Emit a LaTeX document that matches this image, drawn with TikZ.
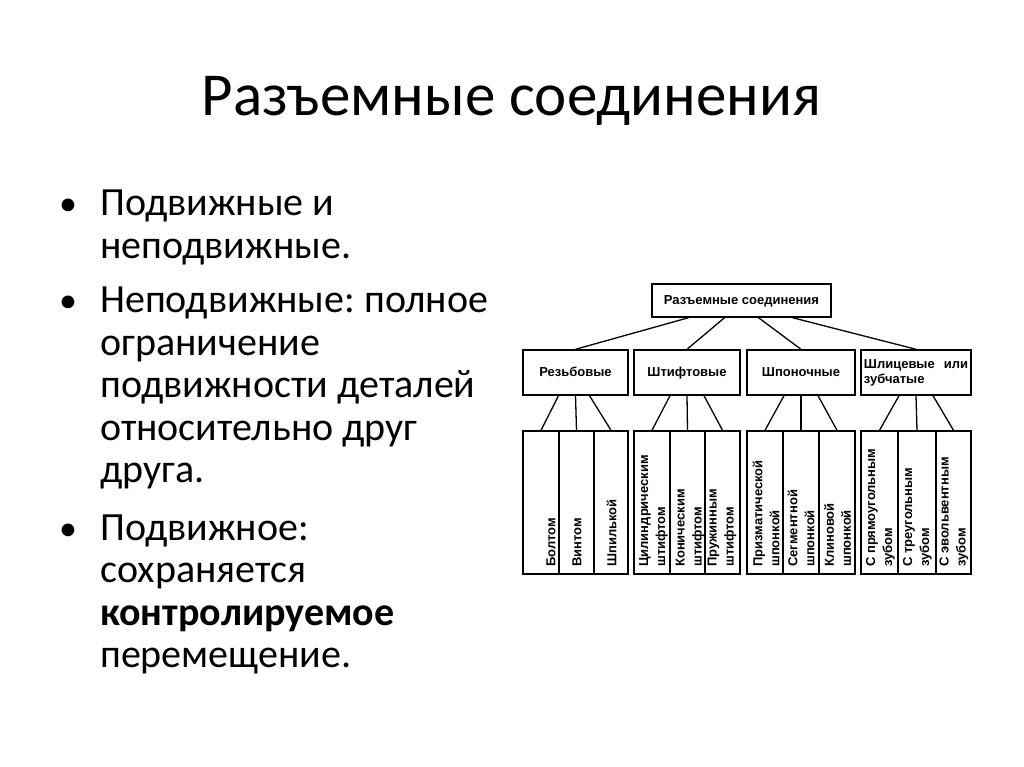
\documentclass[tikz,border=0pt]{standalone}
\usepackage{fontspec}
\setmainfont{Carlito}
\newfontfamily\diagfont{Liberation Sans}
\frenchspacing
\begin{document}
\begin{tikzpicture}[x=1pt,y=-1pt,
  box/.style={draw, line width=1.4pt, inner sep=0pt, align=left,
    font=\diagfont\bfseries\fontsize{13}{15}\selectfont},
  col/.style={draw, line width=1.4pt, inner sep=0pt, minimum height=143pt},
  vlab/.style={rotate=90, anchor=west, inner sep=0pt, align=left,
    font=\diagfont\bfseries\fontsize{13}{17}\selectfont},
  link/.style={line width=1.3pt},
  body/.style={anchor=base west, inner sep=0pt, font=\frenchspacing\fontsize{40}{42.5}\selectfont},
  bul/.style={anchor=base, inner sep=0pt, font=\fontsize{36}{42.5}\selectfont}]
\useasboundingbox[fill=white] (0,0) rectangle (1024,767);

% title
\node[anchor=base, inner sep=0pt, font=\fontsize{61}{70}\selectfont] (title) at (511.5,116) {Разъемные соединения};

% bullets
\node[bul] (k1) at (68,216) {•};
\node[bul] (k2) at (68,312.5) {•};
\node[bul] (k3) at (68,540) {•};
\node[body] (l1) at (100,216) {Подвижные и};
\node[body] (l2) at (100,258.5) {неподвижные.};
\node[body] (l3) at (100,312.5) {Неподвижные: полное};
\node[body] (l4) at (100,355) {ограничение};
\node[body] (l5) at (100,397.5) {подвижности деталей};
\node[body] (l6) at (100,440) {относительно друг};
\node[body] (l7) at (100,482.5) {друга.};
\node[body] (l8) at (100,540) {Подвижное:};
\node[body] (l9) at (100,582.5) {сохраняется};
\node[body] (l10) at (100,625) {\textbf{контролируемое}};
\node[body] (l11) at (100,667.5) {перемещение.};

% diagram
\node[box, minimum width=179pt, minimum height=33pt, text height=10pt, text depth=3pt] (top) at (741.5,300.5) {Разъемные соединения};
\node[box, minimum width=105pt, minimum height=45pt, text height=10pt, text depth=3pt] (b1) at (575.5,372.5) {Резьбовые};
\node[box, minimum width=106pt, minimum height=45pt, text height=10pt, text depth=3pt] (b2) at (687,372.5) {Штифтовые};
\node[box, minimum width=108pt, minimum height=45pt, text height=10pt, text depth=3pt] (b3) at (801,372.5) {Шпоночные};
\node[box, minimum width=110pt, minimum height=45pt] (b4) at (916,372.5) {Шлицевые\hspace{9pt}или\\зубчатые};

\draw[link] ([xshift=-53pt]top.south) -- (b1.north);
\draw[link] ([xshift=-17pt]top.south) -- (b2.north);
\draw[link] ([xshift=17pt]top.south) -- (b3.north);
\draw[link] ([xshift=51pt]top.south) -- (b4.north);

\node[col, minimum width=36pt] (c11) at (541,502.5) {};
\node[col, minimum width=35pt] (c12) at (576.5,502.5) {};
\node[col, minimum width=34pt] (c13) at (611,502.5) {};
\node[col, minimum width=36pt] (c21) at (652,502.5) {};
\node[col, minimum width=35pt] (c22) at (687.5,502.5) {};
\node[col, minimum width=35pt] (c23) at (722.5,502.5) {};
\node[col, minimum width=36pt] (c31) at (765,502.5) {};
\node[col, minimum width=36pt] (c32) at (801,502.5) {};
\node[col, minimum width=36pt] (c33) at (837,502.5) {};
\node[col, minimum width=37pt] (c41) at (879.5,502.5) {};
\node[col, minimum width=38pt] (c42) at (917,502.5) {};
\node[col, minimum width=35pt] (c43) at (953.5,502.5) {};

\draw[link] ([xshift=-17pt]b1.south) -- (c11.north);
\draw[link] (b1.south) -- (c12.north);
\draw[link] ([xshift=14pt]b1.south) -- (c13.north);
\draw[link] ([xshift=-17pt]b2.south) -- (c21.north);
\draw[link] (b2.south) -- (c22.north);
\draw[link] ([xshift=17pt]b2.south) -- (c23.north);
\draw[link] ([xshift=-17pt]b3.south) -- (c31.north);
\draw[link] (b3.south) -- (c32.north);
\draw[link] ([xshift=17pt]b3.south) -- (c33.north);
\draw[link] ([xshift=-17pt]b4.south) -- (c41.north);
\draw[link] (b4.south) -- (c42.north);
\draw[link] ([xshift=17pt]b4.south) -- (c43.north);

\node[vlab] (t11) at (551,567) {Болтом};
\node[vlab] (t12) at (577,567) {Винтом};
\node[vlab] (t13) at (611.5,567) {Шпилькой};
\node[vlab] (t21) at (653.5,567) {Цилиндрическим\\штифтом};
\node[vlab] (t22) at (690,567) {Коническим\\штифтом};
\node[vlab] (t23) at (722,567) {Пружинным\\штифтом};
\node[vlab] (t31) at (766,567) {Призматической\\шпонкой};
\node[vlab] (t32) at (801,567) {Сегментной\\шпонкой};
\node[vlab] (t33) at (837.5,567) {Клиновой\\шпонкой};
\node[vlab] (t41) at (880.5,567) {С прямоугольным\\зубом};
\node[vlab] (t42) at (917.5,567) {С треугольным\\зубом};
\node[vlab] (t43) at (954,567) {С эвольвентным\\зубом};
\end{tikzpicture}
\end{document}
